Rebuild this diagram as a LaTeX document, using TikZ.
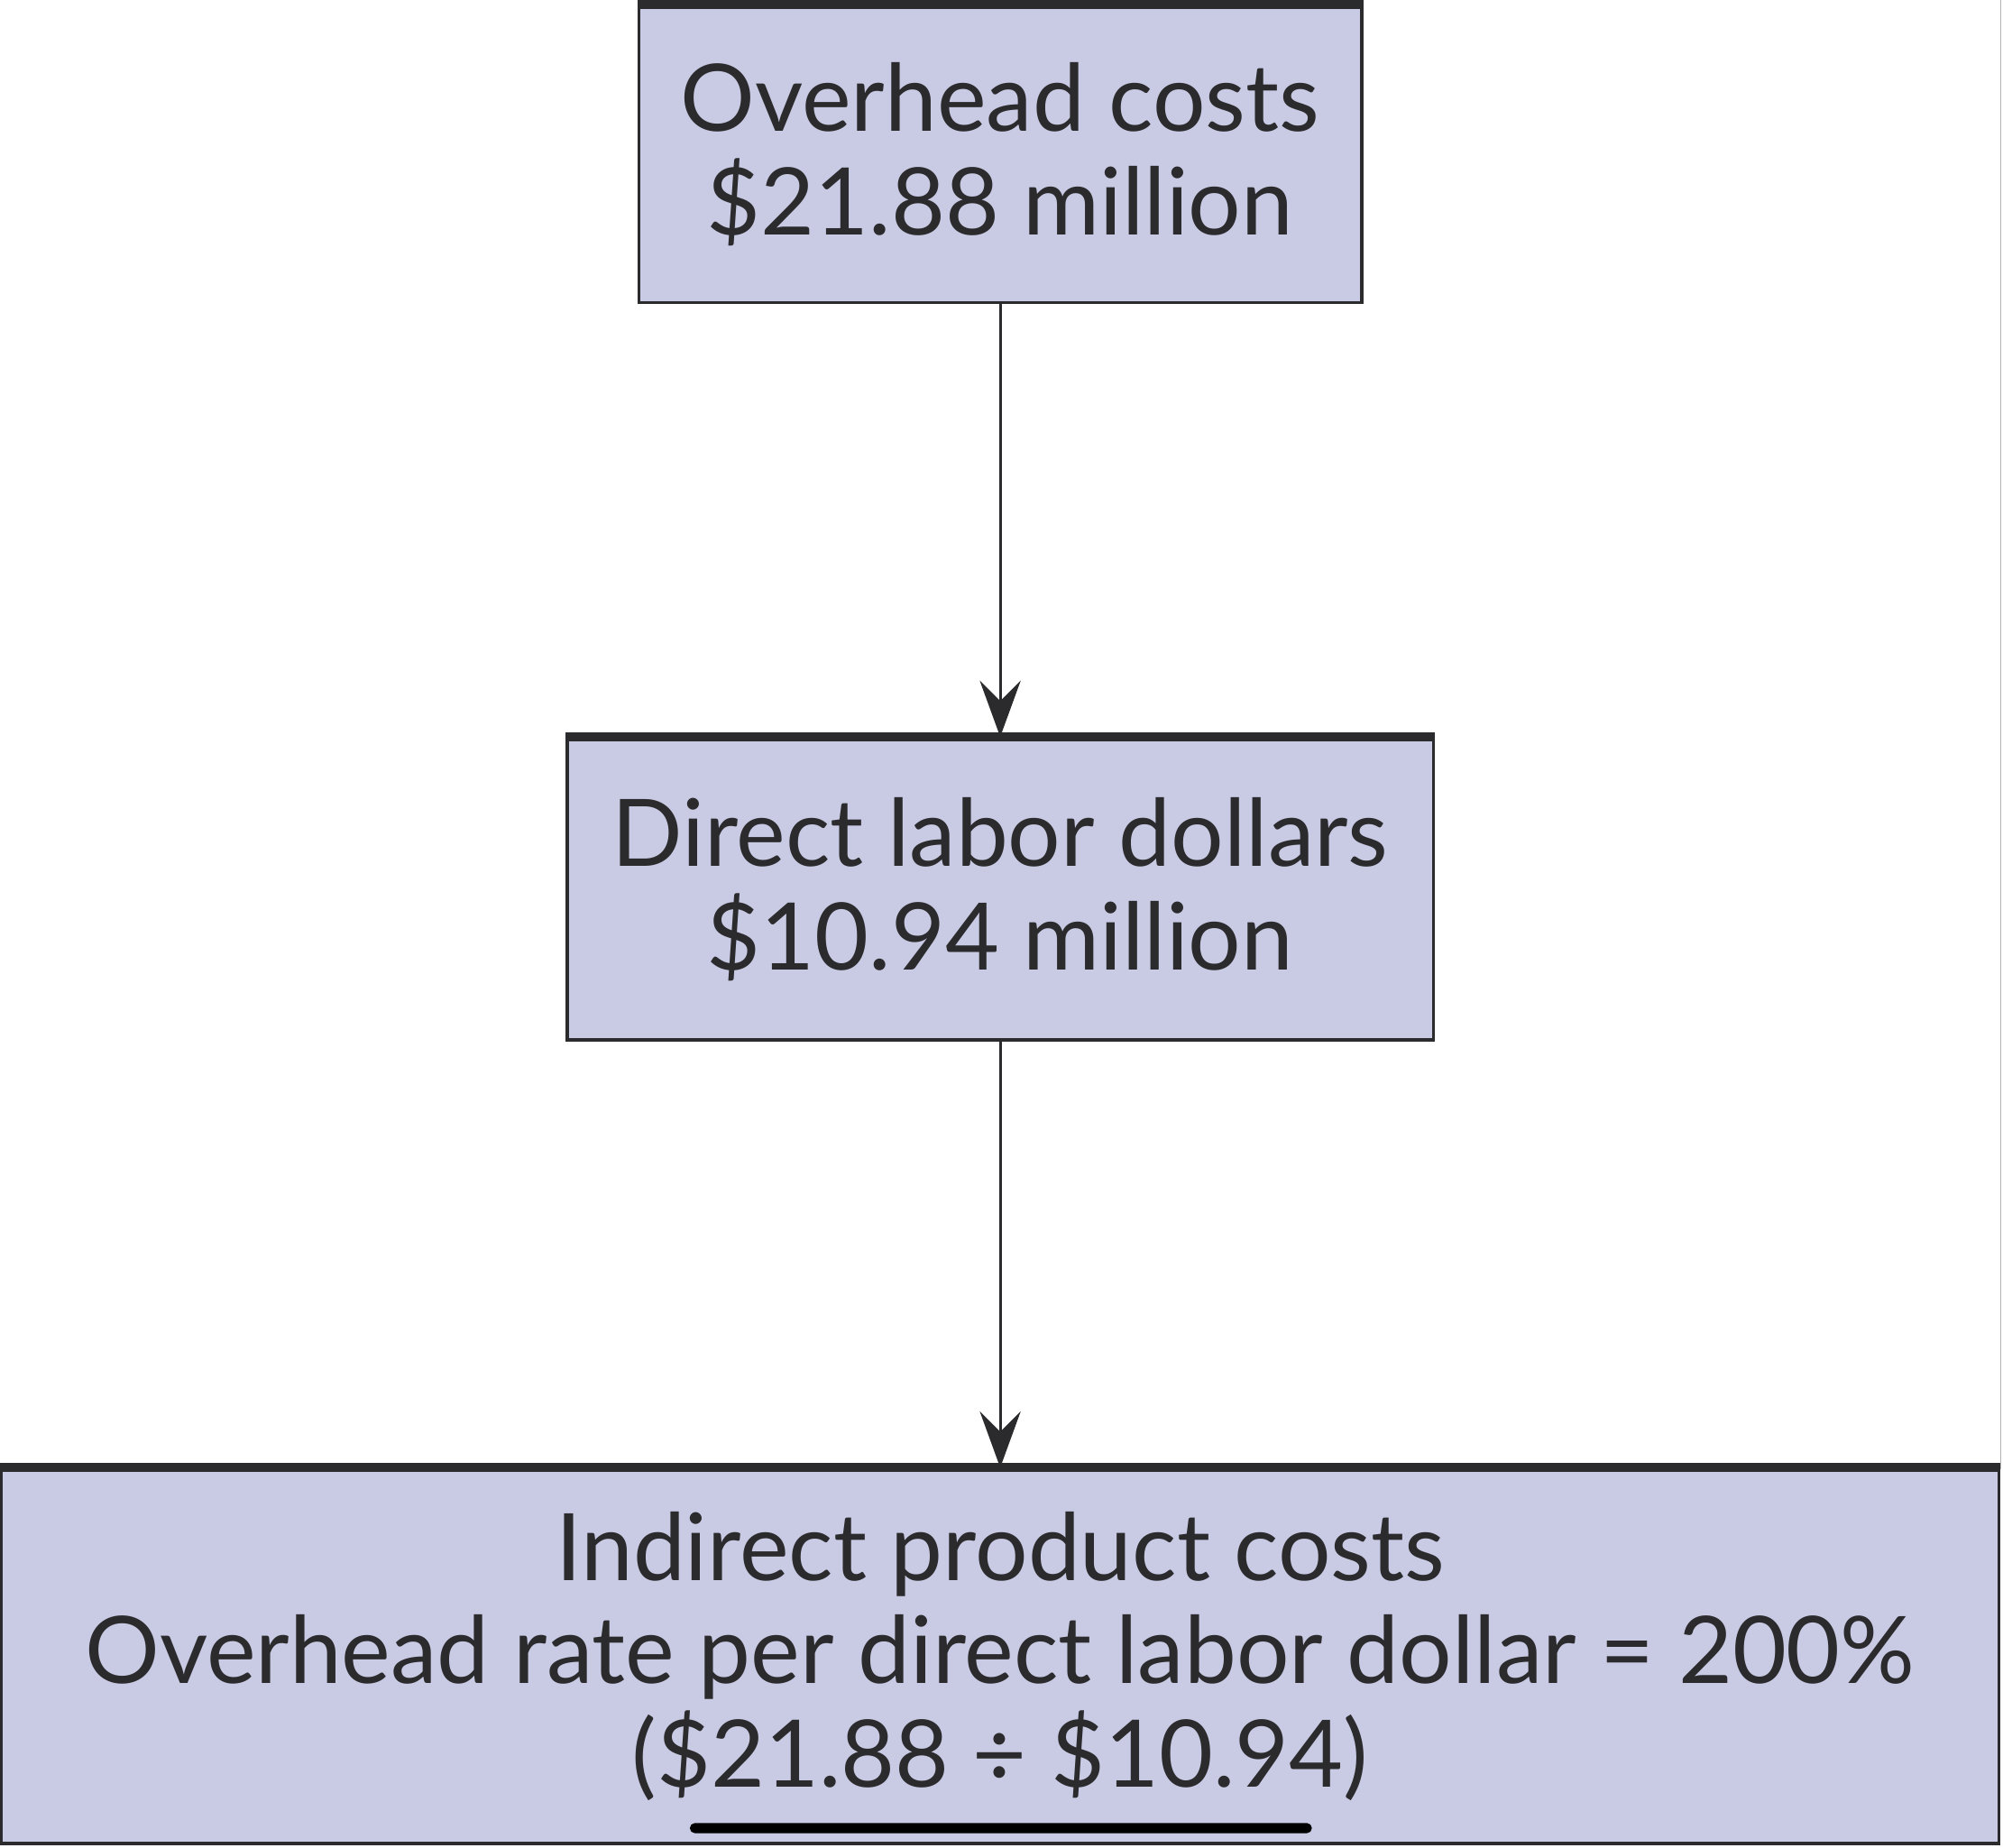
\documentclass[tikz,border=0pt]{standalone}
\usepackage{fontspec}
\setmainfont{Lato}
\usepackage{tikz}
\usetikzlibrary{arrows.meta}
\definecolor{boxfill}{HTML}{C9CBE5}
\definecolor{inkline}{HTML}{2B2A2C}

\begin{document}
\begin{tikzpicture}[x=0.5pt,y=0.5pt,
	box/.style={draw=inkline,fill=boxfill,line width=1.2pt,inner sep=0pt,align=center,
		text=inkline,font=\fontsize{36.5}{40.5}\selectfont},
	topbar/.style={draw=inkline,line width=3.5pt},
	flow/.style={draw=inkline,line width=1.1pt,-{Stealth[length=22pt,width=16pt,inset=8pt]}}]
	\useasboundingbox[fill=white] (0,0) rectangle (1568,1446);
	
	%BOXES
	\node[box,minimum width=283pt,minimum height=116pt] (ovh) at (783,1325) {Overhead costs\\\$21.88 million};
	\node[box,minimum width=339pt,minimum height=118pt] (dld) at (783,750) {Direct labor dollars\\\$10.94 million};
	\node[box,minimum width=782pt,minimum height=146.5pt] (ipc) at (783,149.5) {Indirect product costs\\Overhead rate per direct labor dollar = 200\%\\(\$21.88 ÷ \$10.94)};
	
	%THICK TOP EDGES
	\foreach \b in {ovh,dld,ipc}{
		\draw[topbar] (\b.north west) -- (\b.north east);
	}
	
	%ARROWS
	\draw[flow] (ovh.south) -- (dld.north);
	\draw[flow] (dld.south) -- (ipc.north);
	
	%SCREEN EDGE AND BAR
	\draw[gray!60,line width=0.4pt] (1566,1446) -- (1566,296);
	\fill[black,rounded corners=2pt] (540,11) rectangle (1027,19);
\end{tikzpicture}
\end{document}
